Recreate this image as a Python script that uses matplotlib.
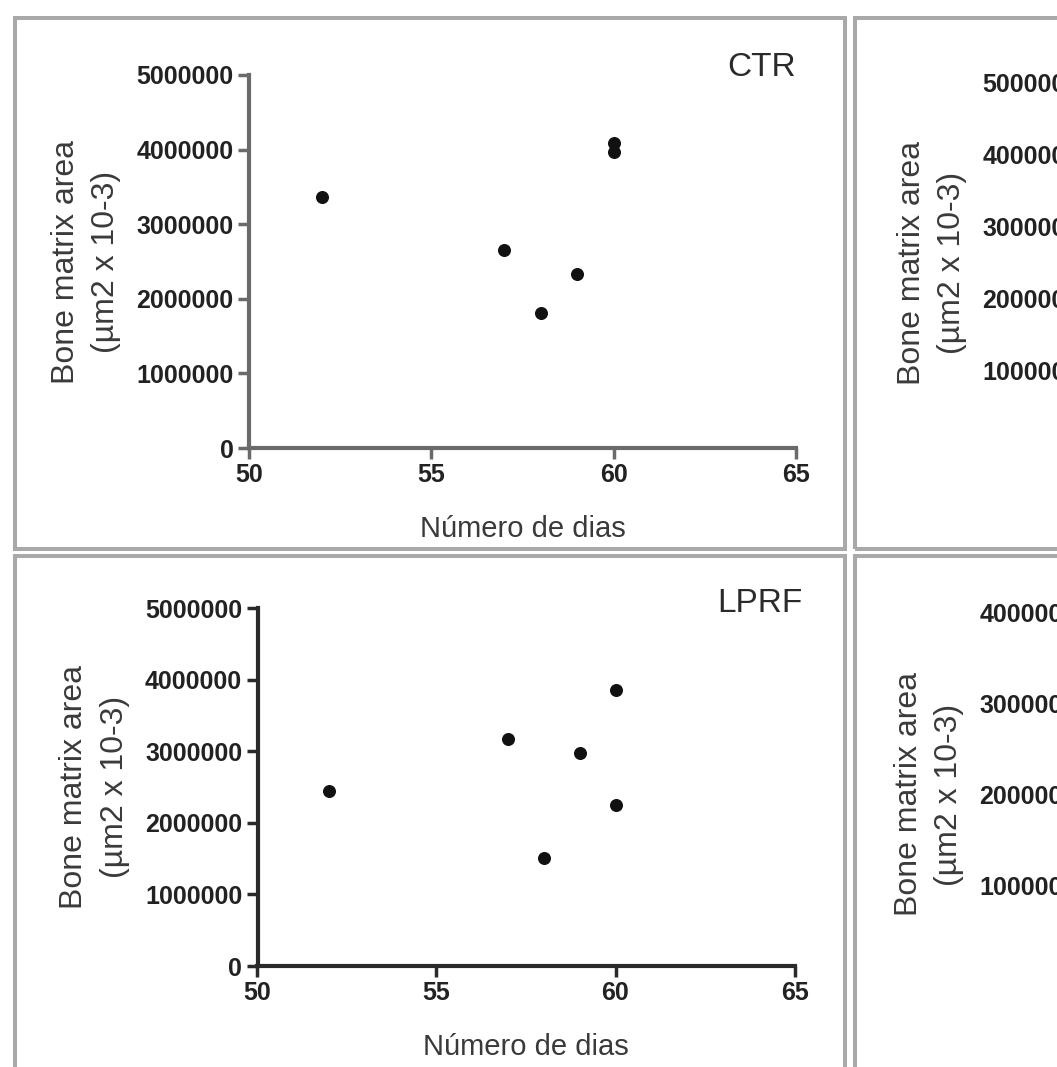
import matplotlib
matplotlib.use('Agg')
import matplotlib.pyplot as plt
from matplotlib.patches import Rectangle
from matplotlib.ticker import FuncFormatter

plt.rcParams['font.family'] = ['Liberation Sans', 'DejaVu Sans']

# data
ctr_dias = [52, 57, 58, 59, 60, 60]
ctr_area = [3360000, 2650000, 1810000, 2330000, 4090000, 3970000]

lprf_dias = [52, 57, 58, 59, 60, 60]
lprf_area = [2440000, 3170000, 1510000, 2980000, 3850000, 2250000]

x_ticks = [50, 55, 60, 65]
y_ticks_5m = [0, 1000000, 2000000, 3000000, 4000000, 5000000]
y_ticks_4m = [0, 1000000, 2000000, 3000000, 4000000]

ylabel = 'Bone matrix area\n(\u00b5m2 x 10-3)'
xlabel = 'N\u00famero de dias'

W, H = 1057, 1067
fig = plt.figure(figsize=(W / 100, H / 100), dpi=100)


def box(x0, y0, x1, y1):
    # pixel box (top-left origin) -> figure fraction rect
    return [x0 / W, 1 - y1 / H, (x1 - x0) / W, (y1 - y0) / H]


# grey panel frames
frame_kw = dict(fill=False, ec='#a9a9a9', lw=2.9, transform=fig.transFigure)
for x0, y0, x1, y1 in [(14.5, 18, 845, 549), (14.5, 556, 845, 1090),
                       (855, 18, 1200, 549), (855, 556, 1200, 1090)]:
    r = box(x0, y0, x1, y1)
    fig.add_artist(Rectangle((r[0], r[1]), r[2], r[3], **frame_kw))

plain = FuncFormatter(lambda v, p: '%d' % v)


def style(ax, spine_col, ylim, yticks):
    ax.set_xlim(50, 65)
    ax.set_ylim(*ylim)
    ax.set_xticks(x_ticks)
    ax.set_yticks(yticks)
    ax.yaxis.set_major_formatter(plain)
    for s in ['top', 'right']:
        ax.spines[s].set_visible(False)
    for s in ['left', 'bottom']:
        ax.spines[s].set_color(spine_col)
        ax.spines[s].set_linewidth(3)
    ax.tick_params(length=8, width=2.5, pad=3, colors=spine_col,
                   labelcolor='#222222', labelsize=18)
    for lab in ax.get_xticklabels() + ax.get_yticklabels():
        lab.set_fontweight('bold')
    ax.set_ylabel(ylabel, fontsize=23, color='#3a3a3a', linespacing=1.45,
                  labelpad=11)
    ax.set_xlabel(xlabel, fontsize=21, color='#3a3a3a', labelpad=20)


# top left: CTR
ax1 = fig.add_axes(box(249, 75, 796, 448))
ax1.scatter(ctr_dias, ctr_area, s=70, c='#111111', zorder=3, clip_on=False)
style(ax1, '#6a6a6a', (0, 5000000), y_ticks_5m)
ax1.text(1.0, 1.0 + 7 / 373, 'CTR', transform=ax1.transAxes, ha='right',
         va='center', fontsize=24, color='#2a2a2a')

# bottom left: LPRF
ax2 = fig.add_axes(box(257.5, 608, 794.5, 966))
ax2.scatter(lprf_dias, lprf_area, s=70, c='#111111', zorder=3, clip_on=False)
style(ax2, '#2a2a2a', (0, 5000000), y_ticks_5m)
ax2.text(1.0 + 8 / 537, 1.0 + 4 / 358, 'LPRF', transform=ax2.transAxes,
         ha='right', va='center', fontsize=24, color='#2a2a2a')

# right column, cut off by the picture edge
ax3 = fig.add_axes(box(1095, 83, 1640, 443))
style(ax3, '#4a4a4a', (0, 5000000), y_ticks_5m)
ax4 = fig.add_axes(box(1092, 612, 1640, 977))
style(ax4, '#4a4a4a', (0, 4000000), y_ticks_4m)

fig.savefig('out.png', dpi=100)
